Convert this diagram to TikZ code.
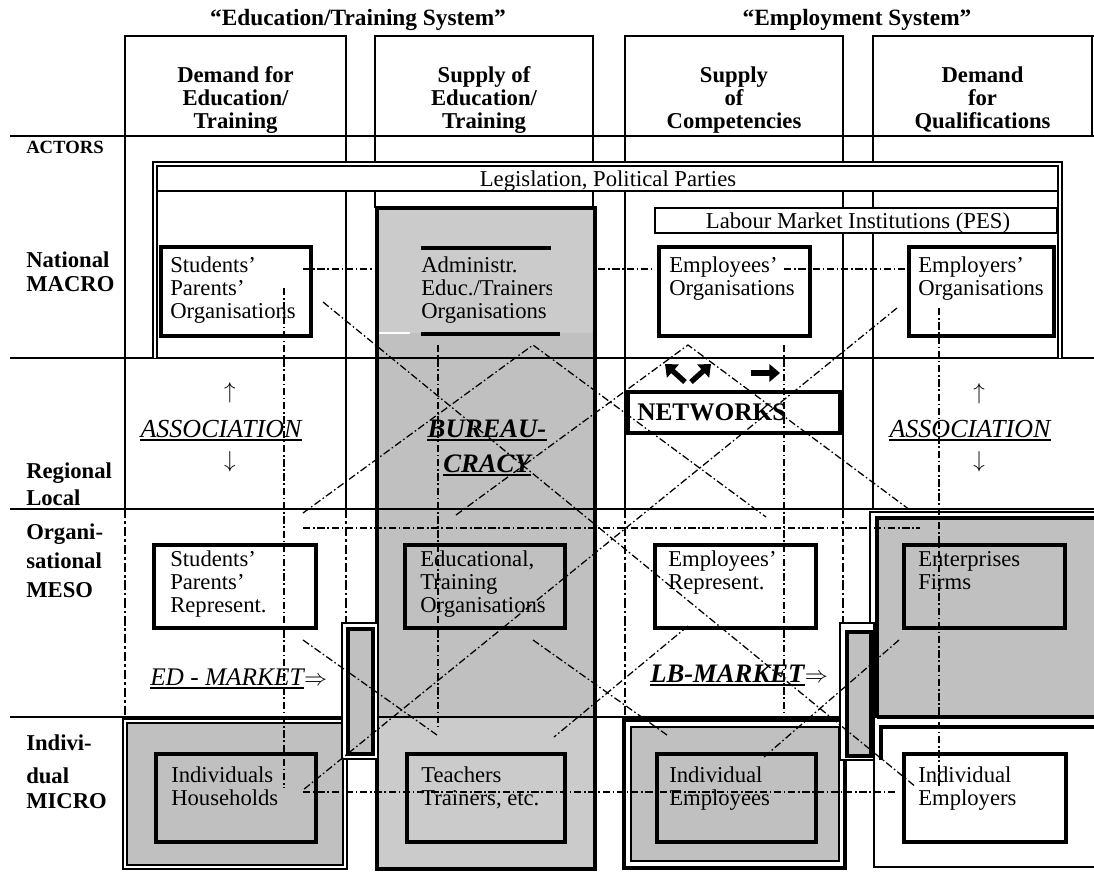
\documentclass[tikz,border=0pt]{standalone}
\usepackage{fontspec}
\setmainfont{Liberation Serif}
\usetikzlibrary{arrows.meta}
\definecolor{gA}{HTML}{C0C0C0}
\definecolor{gB}{HTML}{CBCBCB}
\newcommand{\mtext}[5][]{\foreach \tl [count=\ii from 0] in {#5} {\node[txt,#1] (#2\ii) at (#3,#4+\ii*23) {\tl};}}
\begin{document}
\begin{tikzpicture}[x=0.75pt,y=-0.75pt,
  gridline/.style={line width=2.2pt},
  ddash/.style={line width=0.95pt, dash pattern=on 5.5pt off 2pt on 1.2pt off 2pt},
  gdash/.style={line width=2.2pt, dash pattern=on 7pt off 2.2pt on 2pt off 2.2pt},
  actor/.style={draw, line width=3pt},
  txt/.style={anchor=base west, inner sep=0pt, font=\fontsize{17}{17}\selectfont},
  hdr/.style={anchor=base, inner sep=0pt, font=\fontsize{17}{17}\selectfont\bfseries},
  rowlab/.style={anchor=base west, inner sep=0pt, font=\fontsize{17}{17}\selectfont\bfseries},
  ttl/.style={anchor=base, inner sep=0pt, font=\fontsize{17.5}{18}\selectfont\bfseries},
  frame2/.style={double, double distance=1.6pt, line width=1.2pt},
  emph/.style={anchor=base, inner sep=0pt},
  ul/.style={line width=1.3pt},
  fatarrow/.style={line width=4pt, -{Triangle[length=8pt,width=13pt]}},
]
\useasboundingbox (0,0) rectangle (1094,872);
\fill[white] (0,0) rectangle (1094,872);

% ---------- grey fills
\fill[gB] (377,208) rectangle (595,333);
\fill[gA] (377,333) rectangle (595,717);
\fill[gB] (377,717) rectangle (595,869);
\draw[white, line width=1pt] (379,333) -- (410,333);
\fill[gA] (877,518) rectangle (1094,717);

% ---------- grid
\foreach \y in {136,358,509,717} \draw[gridline] (10,\y) -- (1094,\y);
\draw[gridline] (125,509) -- (125,36) -- (346,36) -- (346,509);
\draw[gridline] (375,208) -- (375,36) -- (593,36) -- (593,208);
\draw[gridline] (625,509) -- (625,36) -- (843,36) -- (843,509);
\draw[gridline] (873,509) -- (873,36) -- (1094,36);
\draw[gridline] (1092,36) -- (1092,136);
\draw[gdash] (125,509) -- (125,717);
\draw[gdash] (346,509) -- (346,623);
\draw[gdash] (625,509) -- (625,717);
\draw[gdash] (843,509) -- (843,623);

% ---------- bureaucracy column border
\draw[line width=3pt] (377,208) rectangle (595,869);

% ---------- national frame, legislation, labour market
\draw[frame2] (155,358) -- (155,164) -- (1060,164) -- (1060,358);
\fill[white] (157.8,166.8) rectangle (1057.2,191);
\draw[line width=2.2pt] (157.8,191) -- (1057.2,191);
\draw[line width=2.2pt, fill=white] (655,208) -- (1057.2,208) -- (1057.2,233) -- (655,233) -- cycle;

% ---------- meso grey region (enterprises)
\draw[line width=1pt] (870,623) -- (870,512) -- (1094,512);
\draw[line width=3pt] (877,717) -- (877,518) -- (1094,518);
\draw[line width=3pt] (877,717) -- (1094,717);

% ---------- micro frames
\draw[line width=1pt, fill=white] (123,719) rectangle (347,869);
\draw[line width=1pt, fill=gA] (127,723) rectangle (343,865);
\draw[line width=3pt, fill=white] (624,720) rectangle (845,868);
\draw[line width=2pt, fill=gA] (631,727) rectangle (839,861);
\draw[line width=3pt] (881,760) -- (881,727) -- (1094,727);
\draw[line width=1pt] (874,760) -- (874,867) -- (1094,867);

% ---------- small connecting rectangles
\draw[line width=1pt, fill=white] (342,623) rectangle (378,759);
\draw[line width=2.5pt, fill=gA] (348,629) rectangle (373,754);
\draw[line width=1pt, fill=white] (840,623) rectangle (874,760);
\draw[line width=2.5pt, fill=gA] (847,632) rectangle (871,756);

% ---------- actor boxes
\draw[actor, fill=white] (161,247) rectangle (311,336);
\draw[line width=3pt] (421,248) -- (551,248);
\draw[line width=3pt] (421,334) -- (560,334);
\draw[actor, fill=white] (659,247) rectangle (810,336);
\draw[actor, fill=white] (909,247) rectangle (1054,336);
\draw[actor, fill=white] (628,392) rectangle (840,433);
\draw[actor, fill=white] (154,545) rectangle (316,628);
\draw[actor, fill=gA] (405,545) rectangle (565,628);
\draw[actor, fill=white] (655,545) rectangle (816,628);
\draw[actor, fill=gA] (904,545) rectangle (1065,628);
\draw[actor, fill=gA] (156,754) rectangle (316,842);
\draw[actor, fill=gB] (407,754) rectangle (565,842);
\draw[actor, fill=gA] (657,754) rectangle (816,842);
\draw[actor, fill=white] (904,754) rectangle (1066,842);

% ---------- dash-dot relations
\draw[ddash] (303,269) -- (372,269);
\draw[ddash] (598,269) -- (653,269);
\draw[ddash] (784,269) -- (907,269);
\draw[ddash] (303,528) -- (920,528);
\draw[ddash] (303,792) -- (897,792);
\draw[ddash] (284,288) -- (284,788);
\draw[ddash] (438,345) -- (438,727);
\draw[ddash] (784,345) -- (784,713);
\draw[ddash] (939,308) -- (939,787);
\draw[ddash] (323,302) -- (916,787);
\draw[ddash] (897,308) -- (303,790);
\draw[ddash] (303,513) -- (533,345) -- (766,517);
\draw[ddash] (456,515) -- (688,345) -- (914,513);
\draw[ddash] (303,640) -- (437,735);
\draw[ddash] (533,640) -- (667,735);
\draw[ddash] (688,626) -- (554,737);
\draw[ddash] (899,640) -- (764,757);

% ---------- titles and headers
\node[ttl] (t1) at (358,25) {“Education/Training System”};
\node[ttl] (t2) at (857,25) {“Employment System”};
\mtext[hdr]{ha}{235.5}{82}{Demand for,Education/,Training}
\mtext[hdr]{hb}{484}{82}{Supply of,Education/,Training}
\mtext[hdr]{hc}{734}{82}{Supply,of,Competencies}
\mtext[hdr]{hd}{982.5}{82}{Demand,for,Qualifications}

% ---------- row labels
\node[rowlab, font=\fontsize{14}{14}\selectfont\bfseries] (r0) at (26,153) {ACTORS};
\node[rowlab] (r1) at (26,267) {National};
\node[rowlab] (r2) at (26,291) {MACRO};
\node[rowlab] (r3) at (26,478) {Regional};
\node[rowlab] (r4) at (26,505) {Local};
\node[rowlab] (r5) at (26,539) {Organi-};
\node[rowlab] (r6) at (26,568) {sational};
\node[rowlab] (r7) at (26,597) {MESO};
\node[rowlab] (r8) at (26,750) {Indivi-};
\node[rowlab] (r9) at (26,783) {dual};
\node[rowlab] (r10) at (26,808) {MICRO};

% ---------- institution texts
\node[txt, anchor=base] (leg) at (608,186) {Legislation, Political Parties};
\node[txt, anchor=base] (lmi) at (858,228) {Labour Market Institutions (PES)};
\mtext{spo}{170}{272}{Students’,Parents’,Organisations}
\begin{scope}
\clip (405,240) rectangle (551,340);
\mtext{adm}{421}{272}{Administr.,Educ./Trainers,Organisations}
\end{scope}
\mtext{eeo}{669}{272}{Employees’,Organisations}
\mtext{ero}{918}{272}{Employers’,Organisations}
\mtext{spr}{170}{566}{Students’,Parents’,Represent.}
\mtext{edu}{420}{566}{{Educational,},Training,Organisations}
\mtext{eer}{668}{566}{Employees’,Represent.}
\mtext{ent}{918}{566}{Enterprises,Firms}
\mtext{ih}{171}{782}{Individuals,Households}
\mtext{tt}{421}{782}{Teachers,{Trainers, etc.}}
\mtext{iee}{669}{782}{Individual,Employees}
\mtext{ier}{918}{782}{Individual,Employers}

% ---------- coordination modes
\node[emph, font=\fontsize{19.5}{20}\selectfont\itshape] (as1) at (221,437) {ASSOCIATION};
\draw[ul] ([yshift=-2pt]as1.base west) -- ([yshift=-2pt]as1.base east);
\node[emph, font=\fontsize{17}{17}\selectfont] (up1) at (230,398) {$\uparrow$};
\node[emph, font=\fontsize{17}{17}\selectfont] (dn1) at (230,467) {$\downarrow$};
\node[emph, font=\fontsize{19.5}{20}\selectfont\itshape] (as2) at (970,437) {ASSOCIATION};
\draw[ul] ([yshift=-2pt]as2.base west) -- ([yshift=-2pt]as2.base east);
\node[emph, font=\fontsize{17}{17}\selectfont] (up2) at (979,399) {$\uparrow$};
\node[emph, font=\fontsize{17}{17}\selectfont] (dn2) at (979,467) {$\downarrow$};
\node[emph, font=\fontsize{20}{20}\selectfont\bfseries\itshape] (bu1) at (487,437) {BUREAU-};
\draw[ul] ([yshift=-2pt]bu1.base west) -- ([yshift=-2pt]bu1.base east);
\node[emph, font=\fontsize{20}{20}\selectfont\bfseries\itshape] (bu2) at (487,472) {CRACY};
\draw[ul] ([yshift=-2pt]bu2.base west) -- ([yshift=-2pt]bu2.base east);
\node[emph, anchor=base west, font=\fontsize{19}{19}\selectfont\bfseries] (netw) at (637,420) {NETWORKS};
\node[emph, anchor=base west, font=\fontsize{19}{19}\selectfont\itshape] (edm) at (150,685) {ED - MARKET};
\draw[ul] ([yshift=-2pt]edm.base west) -- ([yshift=-2pt]edm.base east);
\node[emph, anchor=base west, font=\fontsize{19}{19}\selectfont] (edr) at (edm.base east) {$\Rightarrow$};
\node[emph, anchor=base west, font=\fontsize{20}{20}\selectfont\bfseries\itshape] (lbm) at (650,682) {LB-MARKET};
\draw[ul] ([yshift=-2pt]lbm.base west) -- ([yshift=-2pt]lbm.base east);
\node[emph, anchor=base west, font=\fontsize{19}{19}\selectfont] (lbr) at (lbm.base east) {$\Rightarrow$};

% ---------- network arrows
\coordinate (nwa) at (685,382); \coordinate (nwb) at (665,364);
\coordinate (nea) at (691,382); \coordinate (neb) at (711,364);
\coordinate (ea) at (751,373);  \coordinate (eb) at (780,373);
\draw[fatarrow] (nwa) -- (nwb);
\draw[fatarrow] (nea) -- (neb);
\draw[fatarrow] (ea) -- (eb);
\end{tikzpicture}
\end{document}
